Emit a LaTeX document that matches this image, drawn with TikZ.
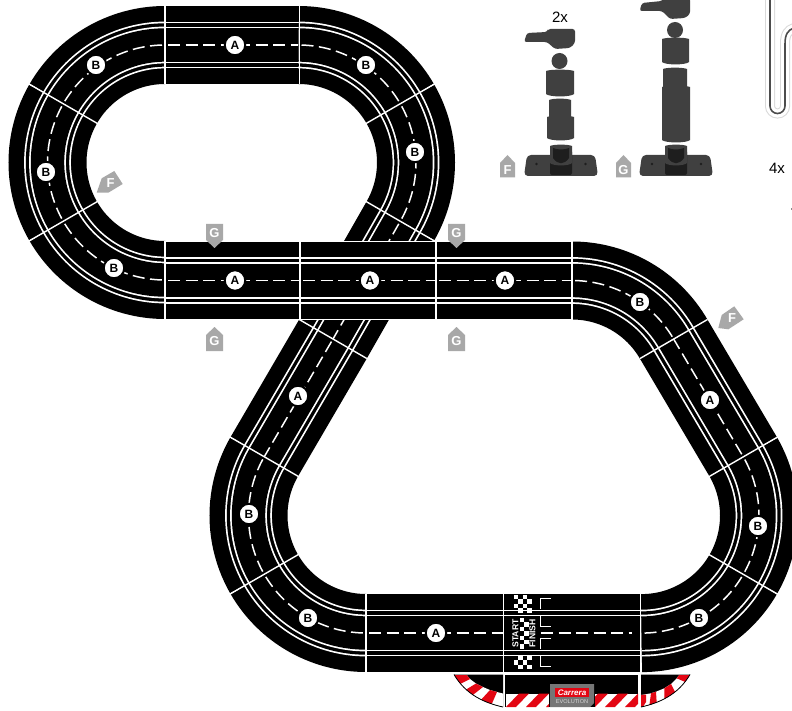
\documentclass[tikz,border=0pt]{standalone}
\usepackage{fontspec}
\setmainfont{Liberation Sans}
\definecolor{tagc}{HTML}{A8A8A8}
\definecolor{partc}{HTML}{404040}
\definecolor{partd}{HTML}{1E1E1E}
\definecolor{kerbred}{HTML}{E30613}
\newcommand\roadpiece[1]{%
  \draw[black,line width=78pt] #1;
  \draw[white,line width=46.8pt] #1;
  \draw[black,line width=43.4pt] #1;
  \draw[white,line width=36.8pt] #1;
  \draw[black,line width=33.4pt] #1;}
\newcommand\midline[1]{\draw[white,line width=1.5pt,dash pattern=on 12pt off 5.5pt,dash phase=14.5pt] #1;}
\newcommand\arcpiece[4]{%
  \roadpiece{({#1+117.5*cos(#3)},{#2-117.5*sin(#3)}) arc[start angle=#3,end angle=#4,radius=117.5pt]}
  \midline{({#1+117.5*cos(#3)},{#2-117.5*sin(#3)}) arc[start angle=#3,end angle=#4,radius=117.5pt]}}
\newcommand\linepiece[2]{\roadpiece{#1 -- #2}\midline{#1 -- #2}}
\newcommand\radsep[3]{\draw[sepline] ({#1+77.5*cos(#3)},{#2-77.5*sin(#3)}) -- ({#1+157*cos(#3)},{#2-157*sin(#3)});}
\newcommand\vsep[2]{\draw[sepline] (#1,#2-39.5) -- (#1,#2+39.5);}
\newcommand\checks[5]{% x y cols rows parity
  \foreach \ci in {1,...,#3}{\foreach \cj in {1,...,#4}{%
    \pgfmathparse{int(mod(\ci+\cj+#5,2))}\ifnum\pgfmathresult=0
      \fill[white] ({#1+(\ci-1)*4.4},{#2+(\cj-1)*4.4}) rectangle ++(4.4,4.4);\fi}}}
% cylinder silhouette: x1 y1 x2 y2 (bulged top and bottom edges)
\newcommand\cyl[4]{\fill[partc] (#1,#2+1) .. controls (#1+4,#2-.8) and (#3-4,#2-.8) .. (#3,#2+1) -- (#3,#4-2) .. controls (#3-3,#4+1.2) and (#1+3,#4+1.2) .. (#1,#4-2) -- cycle;}
\begin{document}
\begin{tikzpicture}[x=1pt,y=-1pt,
  sepline/.style={white,line width=1.4pt},
  badge/.style={circle,fill=white,draw=black,line width=2pt,minimum size=20.5pt,inner sep=0pt,font=\fontsize{12}{12}\selectfont\bfseries,text=black},
  tagtext/.style={inner sep=0pt,text=white,font=\fontsize{13}{13}\selectfont\bfseries},
  tagshape/.style={fill=tagc,draw=none},
  part/.style={fill=partc,rounded corners=2.5pt},
  plate/.style={fill=partc,rounded corners=4pt},
  sock/.style={fill=partd,rounded corners=2pt},
  qty/.style={inner sep=0pt,text=black,font=\fontsize{15}{15}\selectfont},
  gridmark/.style={white,line width=1.5pt},
  startfont/.style={inner sep=0pt,rotate=90,text=white,font=\fontsize{8.6}{8.6}\selectfont\bfseries}]
\useasboundingbox (0,0) rectangle (792,711);
\fill[white] (0,0) rectangle (792,711);

% --- upper loop and diagonal (passes beneath the middle straights)
\arcpiece{165}{162.5}{90}{150}
\arcpiece{165}{162.5}{150}{210}
\arcpiece{165}{162.5}{210}{270}
\linepiece{(165,45)}{(299,45)}
\arcpiece{298.5}{162.5}{90}{30}
\arcpiece{298.5}{162.5}{30}{-30}
\linepiece{(400.26,221.25)}{(333,339)}
\linepiece{(333,339)}{(264.24,456.75)}
\arcpiece{366}{515.5}{150}{210}
\arcpiece{366}{515.5}{210}{270}
\linepiece{(366,633)}{(503,633)}
% start / finish piece
\roadpiece{(503,633) -- (641,633)}
\draw[white,line width=1.5pt,dash pattern=on 12pt off 5.5pt] (541,633) -- (632,633);
\arcpiece{641.5}{515.6}{270}{330}
\arcpiece{641.5}{515.6}{330}{390}
\linepiece{(743.26,456.85)}{(673.76,339.25)}
\arcpiece{572}{398}{30}{90}

\radsep{165}{162.5}{150}
\radsep{165}{162.5}{210}
\radsep{298.5}{162.5}{30}
\radsep{298.5}{162.5}{-30}
\draw[sepline] (299.2,319.5) -- (366.8,358.5);
\radsep{366}{515.5}{150}
\radsep{366}{515.5}{210}
\radsep{641.5}{515.6}{330}
\radsep{641.5}{515.6}{30}
\draw[sepline] (640,358.5) -- (707.5,319.5);
\vsep{165}{45}\vsep{299.5}{45}
\vsep{366}{633}\vsep{503.5}{633}\vsep{640.5}{633}

% --- middle straights on top
\linepiece{(165,280.5)}{(300,280.5)}
\linepiece{(300,280.5)}{(436,280.5)}
\linepiece{(436,280.5)}{(572,280.5)}
\draw[sepline] (165,241.5) -- (572,241.5);
\draw[sepline] (165,319.5) -- (572,319.5);
\vsep{165}{280.5}\vsep{300}{280.5}\vsep{436}{280.5}\vsep{572}{280.5}

% --- start / finish markings
\checks{514}{595}{4}{4}{0}
\checks{514}{655.8}{4}{3}{1}
\checks{520}{618}{2}{7}{0}
\node[startfont] (startlabel) at (515.5,633.5) {START};
\node[startfont] (finishlabel) at (532.5,633.5) {FINISH};
\draw[gridmark] (551,598.5) -- (540.5,598.5) -- (540.5,609);
\draw[gridmark] (540.5,615) -- (540.5,626.5) -- (551,626.5);
\draw[gridmark] (551,638.5) -- (540.5,638.5) -- (540.5,649);
\draw[gridmark] (540.5,655) -- (540.5,666.5) -- (551,666.5);

% --- kerb pieces
\fill[black] (505,674.5) rectangle (638,707);
\begin{scope}
  \clip (506,693.5) rectangle (549,707);
  \fill[white] (506,693.5) rectangle (549,707);
  \foreach \sx in {496,516,536}{\fill[kerbred] (\sx+10,707) -- (\sx+23,693.5) -- (\sx+33,693.5) -- (\sx+20,707) -- cycle;}
\end{scope}
\begin{scope}
  \clip (595,693.5) rectangle (638,707);
  \fill[white] (595,693.5) rectangle (638,707);
  \foreach \sx in {585,605,625}{\fill[kerbred] (\sx,707) -- (\sx+13,693.5) -- (\sx+23,693.5) -- (\sx+10,707) -- cycle;}
\end{scope}
\fill[tagc!70!black] (550,684) -- (594,684) -- (594,703) -- (590,707) -- (550,707) -- cycle;
\fill[kerbred] (555,688) rectangle (589,697);
\node[inner sep=0pt,text=white,font=\fontsize{8}{8}\selectfont\bfseries\itshape] (carrera) at (572,692.5) {Carrera};
\node[inner sep=0pt,text=white!85!black,font=\fontsize{5.6}{5.6}\selectfont] (evolution) at (572,702) {EVOLUTION};

% left kerb
\fill[black] (454,674.5) -- (503,674.5) -- (503,707) .. controls (485,703) and (466,695) .. (454,674.5) -- cycle;
\begin{scope}
  \clip (454,674.5) -- (503,674.5) -- (503,707) .. controls (485,703) and (466,695) .. (454,674.5) -- cycle;
  \fill[white] (450,675) -- (466.7,675) -- (470,679) -- (476,683.5) -- (483,687) -- (490,690) -- (497,692) -- (503,693.5) -- (503,711) -- (480,711) -- cycle;
  \fill[kerbred] (450,675) -- (466.7,675) -- (470,679) -- (456,686) -- cycle;
  \fill[kerbred] (462,692) -- (476,683.5) -- (483,687) -- (469,698) -- cycle;
  \fill[kerbred] (479,702) -- (490,690) -- (497,692) -- (490,708) -- cycle;
\end{scope}
\draw[black,line width=.8pt] (503,707) .. controls (485,703) and (466,695) .. (454,674.5);

% right kerb
\fill[black] (690,674.5) -- (641,674.5) -- (641,707) .. controls (659,703) and (678,695) .. (690,674.5) -- cycle;
\begin{scope}
  \clip (690,674.5) -- (641,674.5) -- (641,707) .. controls (659,703) and (678,695) .. (690,674.5) -- cycle;
  \fill[white] (694,675) -- (679.3,675) -- (676.7,678.3) -- (671,684) -- (664.3,688.3) -- (656,691.7) -- (651,693.3) -- (641,695) -- (641,711) -- (664,711) -- cycle;
  \fill[kerbred] (694,675) -- (679.3,675) -- (676.7,678.3) -- (690,684) -- cycle;
  \fill[kerbred] (671,684) -- (664.3,688.3) -- (664.3,703) -- (677,696) -- cycle;
  \fill[kerbred] (656,691.7) -- (651,693.3) -- (649,708) -- (657,708) -- cycle;
  \fill[kerbred] (646,694.5) -- (641,695) -- (641,710) -- (646,702) -- cycle;
\end{scope}
\draw[black,line width=.8pt] (641,707) .. controls (659,703) and (678,695) .. (690,674.5);

% --- badges
\foreach \bn/\bx/\by/\bl in {a1/235/45/A,b1/96/65/B,b2/46/172/B,b3/114/268/B,b4/366/65/B,b5/415/152/B,a2/235/280.5/A,a3/370/280.5/A,a4/505/280.5/A,b6/640/302/B,a5/710/400/A,b7/758/526/B,b8/699/618/B,a6/436/633/A,b9/308/618/B,b10/249/514/B,a7/298/396/A}{
  \node[badge] (badge\bn) at (\bx,\by) {\bl};}

% --- support tags
\fill[tagshape] (206,224) -- (223,224) -- (223,240) -- (214.5,248) -- (206,240) -- cycle;
\node[tagtext] (tagG1) at (214.5,233) {G};
\fill[tagshape] (448,224) -- (465,224) -- (465,240) -- (456.5,248) -- (448,240) -- cycle;
\node[tagtext] (tagG2) at (456.5,233) {G};
\fill[tagshape] (206,351) -- (223,351) -- (223,335) -- (214.5,327) -- (206,335) -- cycle;
\node[tagtext] (tagG3) at (214.5,341) {G};
\fill[tagshape] (448,351) -- (465,351) -- (465,335) -- (456.5,327) -- (448,335) -- cycle;
\node[tagtext] (tagG4) at (456.5,341) {G};
\fill[tagshape] (96.7,192.7) -- (101.7,178.3) -- (114.3,171) -- (122.7,184) -- (108.3,192.7) -- cycle;
\node[tagtext] (tagF1) at (110.5,183) {F};
\fill[tagshape] (718.3,328) -- (721.7,315) -- (734.3,306.3) -- (743.7,319.3) -- (728.3,329.3) -- cycle;
\node[tagtext] (tagF2) at (732,318) {F};
\fill[tagshape] (500,177.5) -- (500,163) -- (507.5,155) -- (515,163) -- (515,177.5) -- cycle;
\node[tagtext] (tagF3) at (507.5,170) {F};
\fill[tagshape] (616,177.5) -- (616,163) -- (623.5,155) -- (631,163) -- (631,177.5) -- cycle;
\node[tagtext] (tagG5) at (623.5,170) {G};

% --- riser F
\node[qty] (qty2x) at (560,17) {2x};
\fill[part] (524,42) -- (527,33) -- (547,32) -- (548,29) -- (575,29) -- (575,43) -- (570,48) -- (555,49) -- (547,42) -- cycle;
\fill[partc] (559.5,61) circle (8);
\cyl{546}{70}{574}{96}
\cyl{549}{99}{571}{120}
\cyl{547}{116}{574}{140}
\fill[plate] (524,176) -- (527,155) -- (595,155) -- (598,176) -- cycle;
\fill[sock] (550,150) rectangle (572,175);
\cyl{550}{145}{572}{165}
\fill[partd] (553,148) .. controls (558,150) and (564,150) .. (569,148) -- (569,158) .. controls (564,165) and (558,165) .. (553,158) -- cycle;
\fill[partd] (536.5,164) circle (1.3);
\fill[partd] (585.5,164) circle (1.3);

% --- riser G
\fill[part] (639.5,11) -- (642,3) -- (662,1) -- (664,-2) -- (690,-2) -- (690,14) -- (685,18) -- (670,19) -- (662,11) -- cycle;
\fill[partc] (675,30) circle (8);
\cyl{662}{38}{689}{64}
\cyl{663}{68}{687}{90}
\cyl{662}{86}{690}{142}
\fill[plate] (639,176) -- (642,155) -- (710,155) -- (713,176) -- cycle;
\fill[sock] (665,150) rectangle (687,175);
\cyl{665}{145}{687}{165}
\fill[partd] (668,148) .. controls (673,150) and (679,150) .. (684,148) -- (684,158) .. controls (679,165) and (673,165) .. (668,158) -- cycle;
\fill[partd] (652,164) circle (1.3);
\fill[partd] (701,164) circle (1.3);

% --- clip and 4x
\node[qty] (qty4x) at (777,168) {4x};
\draw[black!15,line width=10pt,line cap=butt] (770,-2) -- (770,106) arc[start angle=180,end angle=360,radius=7.5pt] -- (785,44) .. controls (785,34) and (788,30) .. (794,28);
\draw[white,line width=8pt] (770,-2) -- (770,106) arc[start angle=180,end angle=360,radius=7.5pt] -- (785,44) .. controls (785,34) and (788,30) .. (794,28);
\draw[black!70,line width=1.6pt] (770,-2) -- (770,106) arc[start angle=180,end angle=360,radius=7.5pt] -- (785,44) .. controls (785,34) and (788,30) .. (794,28);
\fill[black!45] (791,208) rectangle (792,210);
\end{tikzpicture}
\end{document}
